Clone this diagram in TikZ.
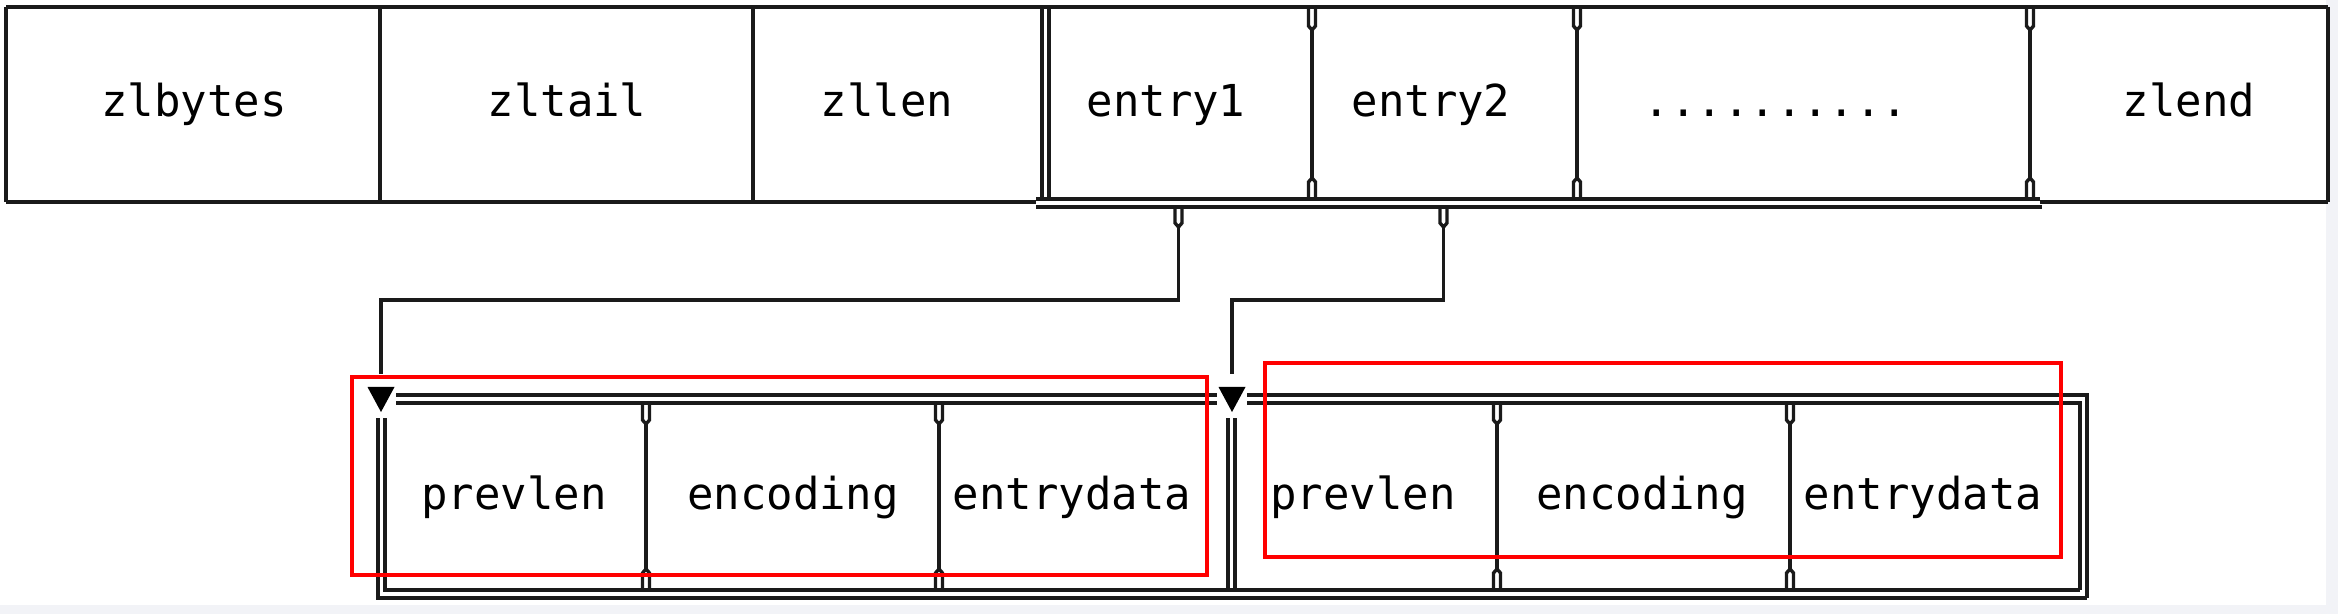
\documentclass[tikz,border=0pt]{standalone}
\usepackage{fontspec}
\newfontfamily\monofnt{DejaVu Sans Mono}
\usetikzlibrary{calc}
\definecolor{bggray}{HTML}{F2F3F7}
\definecolor{lncol}{HTML}{1A1A1A}
\definecolor{redbox}{HTML}{FF0000}
\newcommand\vnotch[3]{%
  \draw[ln] (#1-3.5,#2) -- (#1-3.5,#2+17) -- (#1,#2+21) -- (#1+3.5,#2+17) -- (#1+3.5,#2);
  \draw[ln] (#1,#2+21) -- (#1,#3-21);
  \draw[ln] (#1-3.5,#3) -- (#1-3.5,#3-17) -- (#1,#3-21) -- (#1+3.5,#3-17) -- (#1+3.5,#3);}
\begin{document}
\begin{tikzpicture}[x=0.5pt,y=-0.5pt,
  ln/.style={draw=lncol,line width=1.7pt},
  lbl/.style={font=\monofnt\fontsize{22}{26}\selectfont,anchor=base,inner sep=0pt,text=black},
  hl/.style={draw=redbox,line width=2.3pt},
  tri/.style={fill=black}]
\useasboundingbox (0,0) rectangle (2338,614);
\fill[bggray] (0,0) rectangle (2338,614);
\fill[white] (0,0) rectangle (2326,605);

% ---------- top row ----------
\draw[ln] (6,7) -- (2328,7);
\draw[ln] (6,7) -- (6,202);
\draw[ln] (2328,7) -- (2328,202);
\draw[ln] (6,202) -- (1036,202);
\draw[ln] (2040,202) -- (2328,202);
\draw[ln] (380,7) -- (380,202);
\draw[ln] (753,7) -- (753,202);
% double box of entries
\draw[ln] (1042,8) -- (1042,199) -- (1036,199);
\draw[ln] (1049,8) -- (1049,199);
\draw[ln] (1036,199) -- (2040,199);
\draw[ln] (1036,207) -- (2042,207);
\vnotch{1312}{9}{199}
\vnotch{1577}{9}{199}
\vnotch{2030}{9}{199}

\node[lbl] (zlbytes) at (194,117) {zlbytes};
\node[lbl] (zltail)  at (567,117) {zltail};
\node[lbl] (zllen)   at (887,117) {zllen};
\node[lbl] (e1)      at (1166,117) {entry1};
\node[lbl] (e2)      at (1431,117) {entry2};
\node[lbl] (dots)    at (1776,117) {..........};
\node[lbl] (zlend)   at (2189,117) {zlend};

% ---------- connectors ----------
\coordinate (c1s) at (1178.5,227);
\coordinate (c1k) at (381,300);
\coordinate (a1)  at (381,412);
\coordinate (c2s) at (1443.5,227);
\coordinate (c2k) at (1232,300);
\coordinate (a2)  at (1232,412);
\draw[ln] (1175,207) -- (1175,223) -- (c1s) -- (1182,223) -- (1182,207);
\draw[ln] (1440,207) -- (1440,223) -- (c2s) -- (1447,223) -- (1447,207);
\draw[ln] (c1s) |- (c1k) -- ($(a1)+(0,-38)$);
\draw[ln] (c2s) |- (c2k) -- ($(a2)+(0,-38)$);
\fill[tri] (a1) -- ++(-13.5,-25) -- ++(27,0) -- cycle;
\fill[tri] (a2) -- ++(-13.5,-25) -- ++(27,0) -- cycle;

% ---------- bottom row ----------
\draw[ln] (396,395) -- (1217,395);
\draw[ln] (396,403) -- (1217,403);
\draw[ln] (1247,395) -- (2087,395) -- (2087,598);
\draw[ln] (1247,403) -- (2080,403) -- (2080,590);
\draw[ln] (378,418) -- (378,598) -- (2087,598);
\draw[ln] (385,418) -- (385,590) -- (2080,590);
\draw[ln] (1228,418) -- (1228,590);
\draw[ln] (1235,418) -- (1235,590);
\vnotch{646}{403}{590}
\vnotch{939}{403}{590}
\vnotch{1497}{403}{590}
\vnotch{1790}{403}{590}

\node[lbl] (p1)  at (514,509) {prevlen};
\node[lbl] (en1) at (793,509) {encoding};
\node[lbl] (d1)  at (1072,509) {entrydata};
\node[lbl] (p2)  at (1363,509) {prevlen};
\node[lbl] (en2) at (1642,509) {encoding};
\node[lbl] (d2)  at (1923,509) {entrydata};

% ---------- red highlights ----------
\draw[hl] (352,377) rectangle (1207,575);
\draw[hl] (1265,363) rectangle (2061,557);
\end{tikzpicture}
\end{document}
